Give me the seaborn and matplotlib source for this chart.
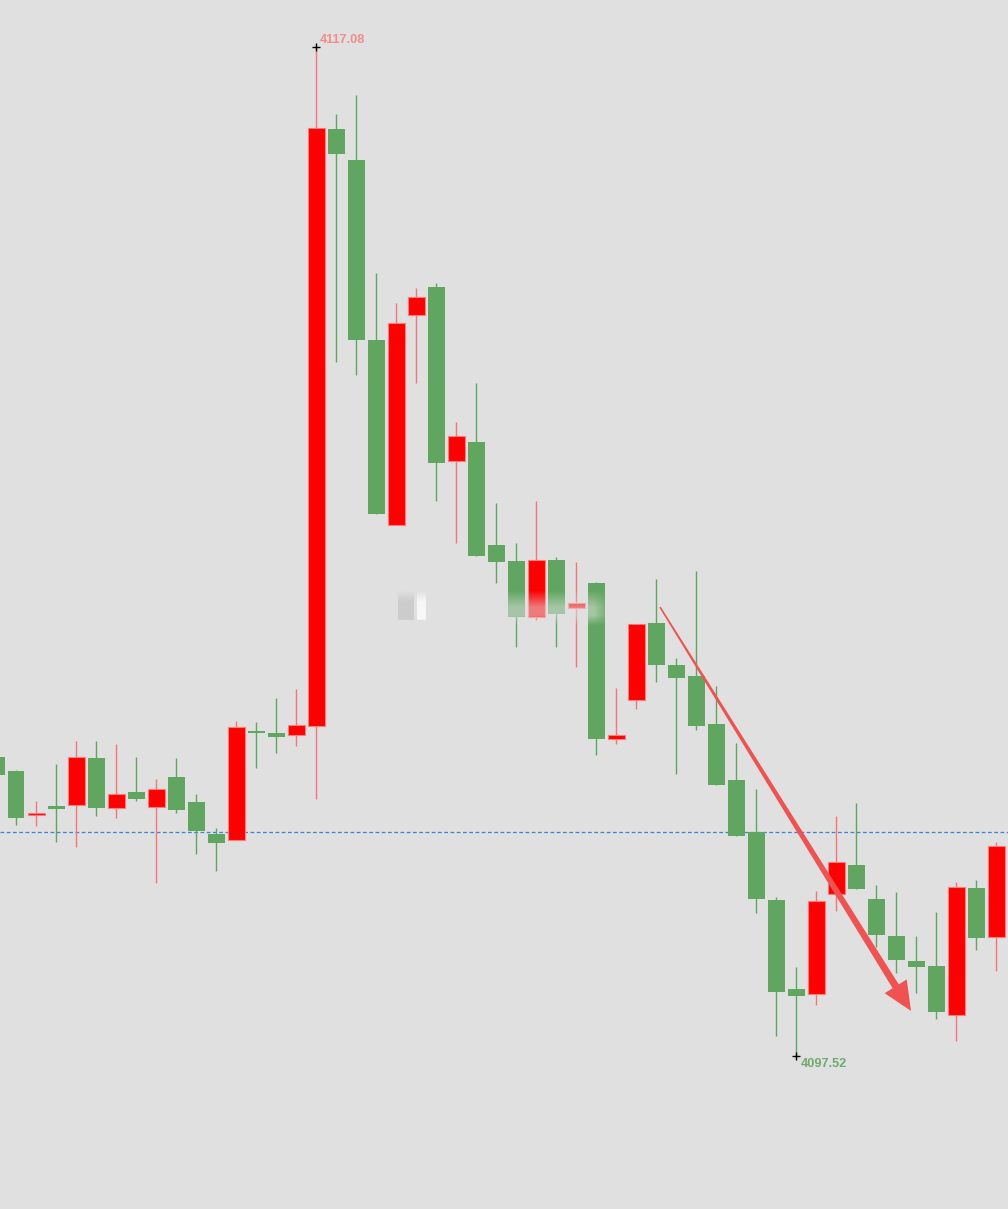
import numpy as np
import pandas as pd
import matplotlib
matplotlib.use("Agg")
import matplotlib.pyplot as plt
from matplotlib.patches import Polygon
from matplotlib.transforms import IdentityTransform
import seaborn as sns

# ---------------- data (prices) ----------------
opens = [4103.32, 4103.04, 4102.19, 4102.37, 4102.39, 4103.30, 4102.33, 4102.64, 4102.35, 4102.93,
         4102.44, 4101.82, 4101.71, 4103.82, 4103.78, 4103.74, 4103.92, 4115.49, 4114.89, 4111.40,
         4107.81, 4111.88, 4112.43, 4109.05, 4109.42, 4107.43, 4107.12, 4106.03, 4107.13, 4106.20,
         4106.69, 4103.66, 4104.42, 4105.91, 4105.10, 4104.89, 4103.96, 4102.87, 4101.86, 4100.54,
         4098.82, 4098.72, 4100.66, 4101.22, 4100.56, 4099.85, 4099.36, 4099.26, 4098.31, 4100.78,
         4099.83]
closes = [4102.97, 4102.13, 4102.23, 4102.31, 4103.32, 4102.33, 4102.60, 4102.50, 4102.70, 4102.29,
          4101.88, 4101.65, 4103.90, 4103.78, 4103.70, 4103.94, 4115.51, 4115.01, 4111.40, 4108.03,
          4111.73, 4112.23, 4109.02, 4109.54, 4107.21, 4107.10, 4106.03, 4107.13, 4106.09, 4106.30,
          4103.66, 4103.74, 4105.89, 4105.10, 4104.85, 4103.92, 4102.77, 4101.78, 4100.56, 4098.76,
          4098.68, 4100.52, 4101.28, 4100.76, 4099.86, 4099.38, 4099.24, 4098.37, 4100.80, 4099.81,
          4101.59]
highs = [4103.35, 4103.06, 4102.46, 4103.18, 4103.63, 4103.63, 4103.57, 4103.32, 4102.89, 4103.30,
         4102.60, 4101.94, 4104.01, 4103.99, 4104.46, 4104.63, 4117.08, 4115.78, 4116.15, 4112.70,
         4112.12, 4112.41, 4112.51, 4109.81, 4110.57, 4108.24, 4107.46, 4108.28, 4107.19, 4107.10,
         4106.71, 4104.65, 4105.89, 4106.77, 4105.24, 4106.92, 4104.69, 4103.59, 4102.70, 4100.60,
         4099.24, 4100.72, 4102.17, 4102.42, 4100.83, 4100.70, 4099.85, 4100.31, 4100.89, 4100.93,
         4101.67]
lows = [4102.93, 4102.00, 4101.98, 4101.67, 4101.57, 4102.17, 4102.13, 4102.46, 4100.87, 4102.23,
        4101.43, 4101.11, 4101.71, 4103.10, 4103.39, 4103.53, 4102.50, 4110.97, 4110.72, 4108.03,
        4107.81, 4110.57, 4108.28, 4107.46, 4107.21, 4106.69, 4105.45, 4105.97, 4105.45, 4105.06,
        4103.35, 4103.57, 4104.25, 4104.77, 4102.99, 4103.84, 4102.77, 4101.78, 4100.29, 4097.91,
        4097.52, 4098.51, 4100.33, 4100.76, 4099.63, 4099.13, 4098.74, 4098.24, 4097.81, 4099.57,
        4099.17]
ref_level = 4101.85
max_label = "4117.08"
min_label = "4097.52"
trend_start = (33.2, 4106.22)
trend_end = (45.75, 4098.39)

df = pd.DataFrame({"open": opens, "close": closes, "high": highs, "low": lows})
df["idx"] = np.arange(len(df))
df["up"] = df["close"] >= df["open"]

# ---------------- style ----------------
BG = "#E0E0E0"
RED = "#FF0000"
RED_EDGE = "#FF7A7A"
RED_WICK = "#F07878"
GREEN = "#60A660"

sns.set_theme(style="white")
plt.rcParams["font.family"] = ["Liberation Sans", "DejaVu Sans"]

W, H = 1008, 1209
fig = plt.figure(figsize=(W / 100, H / 100), dpi=100, facecolor=BG)
ax = fig.add_axes([0, 0, 1, 1])
ax.set_facecolor(BG)
for s in ax.spines.values():
    s.set_visible(False)
ax.set_xticks([])
ax.set_yticks([])
ax.set_xlim(0.2, 50.6)
ax.set_ylim(4094.55, 4117.99)

# reference dashed line
ax.axhline(ref_level, color="#3A82D8", lw=0.9, ls=(0, (3, 2)), zorder=1)

# wicks
for up, col in [(True, RED_WICK), (False, GREEN)]:
    sub = df[df["up"] == up]
    ax.vlines(sub["idx"], sub["low"], sub["high"], colors=col, lw=1.0, zorder=2)

# bodies
width = 0.85
for up, fc, ec in [(True, RED, RED_EDGE), (False, GREEN, GREEN)]:
    sub = df[df["up"] == up]
    bottom = np.minimum(sub["open"], sub["close"])
    height = np.maximum(np.abs(sub["close"] - sub["open"]), 0.04)
    ax.bar(sub["idx"], height, bottom=bottom, width=width, color=fc,
           edgecolor=ec, linewidth=0.8 if up else 0, zorder=3)

# extreme markers + labels
imax = int(df["high"].idxmax())
imin = int(df["low"].idxmin())
sns.scatterplot(x=[imax, imin], y=[df["high"][imax], df["low"][imin]], marker="+",
                color="black", s=40, linewidth=1.0, ax=ax, zorder=5, legend=False)
ax.annotate(max_label, (imax, df["high"][imax]), xytext=(4, 7), textcoords="offset pixels",
            color="#F08C8C", fontsize=9.2, fontweight="bold", ha="left", va="center", zorder=6)
ax.annotate(min_label, (imin, df["low"][imin]), xytext=(5, -8), textcoords="offset pixels",
            color="#6FAA6F", fontsize=9.2, fontweight="bold", ha="left", va="center", zorder=6)

fig.canvas.draw()

# blurred watermark band (decoration, in pixel space)
bx0, bx1, by0, by1 = 392, 612, 584, 626
hh, ww = by1 - by0, bx1 - bx0
yy = np.linspace(0, 1, hh)[:, None]
xx = np.linspace(0, 1, ww)[None, :]
av = np.clip(np.minimum((yy - 0.15) / 0.4, (1.0 - yy) / 0.25), 0, 1)
ah = np.clip(np.minimum(xx / 0.05, (1 - xx) / 0.08), 0, 1)
alpha = 0.55 * av * ah
rgba = np.zeros((hh, ww, 4))
rgba[..., :3] = 0xE0 / 255
rgba[..., 3] = alpha
# faint grey / white smudges of the blurred logo
for x0, x1, col, a in [(398, 414, 0.62, 0.3), (417, 426, 1.0, 0.75)]:
    sx0, sx1 = x0 - bx0, x1 - bx0
    rgba[4:hh - 6, sx0:sx1, :3] = col
    rgba[4:hh - 6, sx0:sx1, 3] = a * np.clip(av[4:hh - 6] * 1.5, 0, 1)
inv = ax.transData.inverted()
(dx0, dy0) = inv.transform((bx0, H - by1))
(dx1, dy1) = inv.transform((bx1, H - by0))
ax.imshow(rgba, extent=(dx0, dx1, dy0, dy1), aspect="auto", zorder=4,
          interpolation="bilinear", origin="upper")
ax.set_xlim(0.2, 50.6)
ax.set_ylim(4094.55, 4117.99)

# tapered trend arrow, built in pixel space
S = ax.transData.transform(trend_start)
T = ax.transData.transform(trend_end)
d = T - S
L = np.hypot(*d)
u = d / L
n = np.array([-u[1], u[0]])
head_len, head_hw = 29.0, 13.0
w0, w1 = 0.8, 3.6
B = T - u * head_len
pts = [S + n * w0, B + n * w1, B + n * head_hw, T, B - n * head_hw, B - n * w1, S - n * w0]
ax.add_patch(Polygon(pts, closed=True, transform=IdentityTransform(),
                     facecolor="#F05252", edgecolor="none", zorder=7))

fig.savefig("out.png", dpi=100, facecolor=BG)
